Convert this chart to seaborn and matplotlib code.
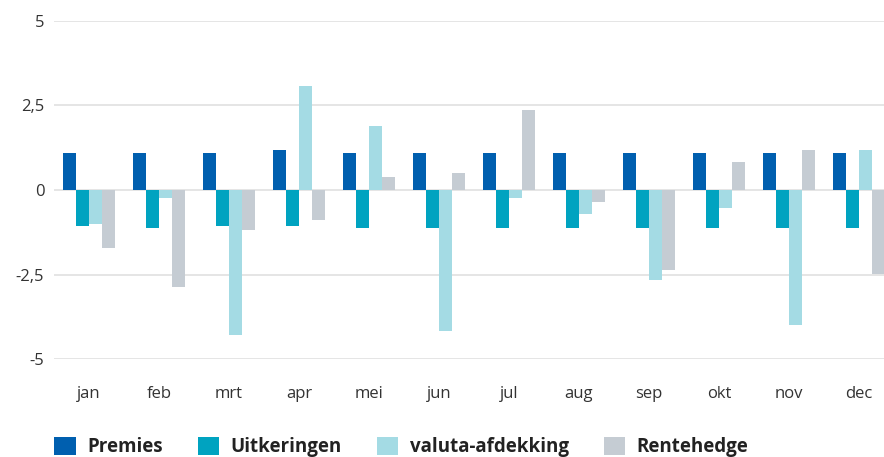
import matplotlib
matplotlib.use("Agg")
import matplotlib.pyplot as plt
import seaborn as sns
import pandas as pd
import numpy as np

months = ["jan", "feb", "mrt", "apr", "mei", "jun", "jul", "aug", "sep", "okt", "nov", "dec"]
series = ["Premies", "Uitkeringen", "valuta-afdekking", "Rentehedge"]
premies = [1.08, 1.08, 1.08, 1.19, 1.08, 1.08, 1.08, 1.08, 1.08, 1.08, 1.08, 1.08]
uitkeringen = [-1.06, -1.11, -1.06, -1.06, -1.12, -1.12, -1.12, -1.12, -1.12, -1.12, -1.12, -1.12]
valuta = [-1.0, -0.23, -4.28, 3.07, 1.90, -4.17, -0.24, -0.70, -2.65, -0.54, -4.0, 1.19]
rentehedge = [-1.70, -2.87, -1.17, -0.89, 0.37, 0.49, 2.37, -0.36, -2.35, 0.84, 1.19, -2.47]
yticks = [-5, -2.5, 0, 2.5, 5]
ytick_labels = ["-5", "-2,5", "0", "2,5", "5"]
colors = ["#005faf", "#00a3c0", "#a4dbe4", "#c5ccd3"]

df = pd.DataFrame({
    "maand": months * 4,
    "serie": np.repeat(series, len(months)),
    "waarde": premies + uitkeringen + valuta + rentehedge,
})

sns.set_theme(style="white")
plt.rcParams["font.family"] = ["Open Sans", "DejaVu Sans"]

fig = plt.figure(figsize=(8.84, 4.57), dpi=100)
W, H = 884, 457
left_px, top_px, bottom_px = 54, 20.7, 359.3
ax = fig.add_axes([left_px / W, 1 - bottom_px / H, 1 - left_px / W, (bottom_px - top_px) / H])

sns.barplot(data=df, x="maand", y="waarde", hue="serie", order=months, hue_order=series,
            palette=colors, width=52 / 70, saturation=1, ax=ax, errorbar=None, gap=0,
            linewidth=0, edgecolor="none")

ax.set_ylim(-5, 5)
ax.set_xlim(-0.5, -0.5 + (W - left_px) / 70)
ax.set_yticks(yticks)
ax.set_yticklabels(ytick_labels)
ax.set_xlabel("")
ax.set_ylabel("")
for s in ax.spines.values():
    s.set_visible(False)
ax.grid(axis="y", color="#e3e3e3", linewidth=1.3)
ax.set_axisbelow(True)
ax.tick_params(axis="y", length=0, pad=7, labelsize=12, labelcolor="#333333")
ax.tick_params(axis="x", length=0, pad=19, labelsize=12, labelcolor="#333333")

sns.move_legend(ax, "center left", bbox_to_anchor=(54 / W, 1 - 447 / H),
                bbox_transform=fig.transFigure, ncol=4, frameon=False, title=None,
                handlelength=1.15, handleheight=1.15, handletextpad=0.62,
                columnspacing=1.85, borderpad=0, borderaxespad=0,
                prop={"family": "Open Sans", "weight": "bold", "size": 13.5})
for t in ax.get_legend().get_texts():
    t.set_color("#222222")

fig.savefig("out.png", dpi=100)
